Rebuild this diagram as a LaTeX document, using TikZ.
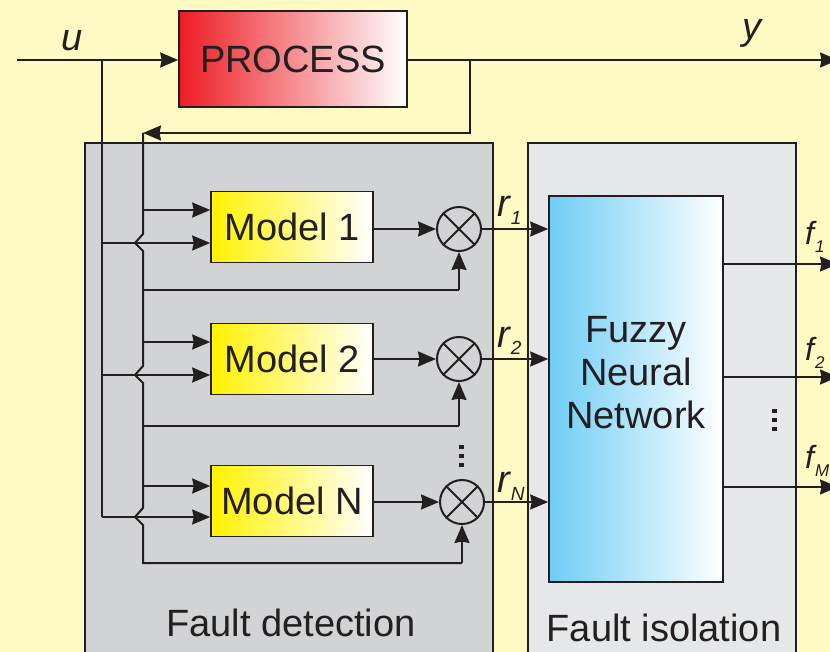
\documentclass[tikz,border=0pt]{standalone}
\usepackage{fontspec}
\setmainfont{Liberation Sans}
\usetikzlibrary{arrows.meta,calc}
\definecolor{bgy}{RGB}{255,249,196}
\definecolor{ink}{RGB}{35,31,32}
\definecolor{fdgray}{RGB}{209,211,212}
\definecolor{figray}{RGB}{230,231,232}
\definecolor{pred}{RGB}{237,28,36}
\definecolor{myel}{RGB}{255,242,0}
\definecolor{fblue}{RGB}{110,205,245}
\tikzset{
  wire/.style={draw=ink,line width=2pt},
  arr/.style={wire,-{Stealth[length=18pt,width=15pt,inset=1.5pt]}},
  blk/.style={draw=ink,line width=1.6pt,inner sep=0pt,text=ink,font=\fontsize{38}{42}\selectfont},
  region/.style={draw=ink,line width=1.6pt,inner sep=0pt},
  mult/.style={circle,draw=ink,line width=2pt,minimum size=44pt,inner sep=0pt},
  lab/.style={text=ink,font=\fontsize{38}{42}\selectfont},
  ilab/.style={text=ink,font=\fontsize{38}{42}\selectfont\itshape,inner sep=0pt},
  flab/.style={text=ink,font=\fontsize{32}{36}\selectfont\itshape,inner sep=0pt,anchor=base west},
  rlab/.style={ilab,anchor=base west}
}
\newcommand{\rsub}[2]{#1\hspace{1pt}\raisebox{-8pt}{\fontsize{19}{20}\selectfont #2}}
\newcommand{\fsub}[2]{#1\hspace{1pt}\raisebox{-8pt}{\fontsize{17}{18}\selectfont #2}}
\begin{document}
\begin{tikzpicture}[x=1pt,y=-1pt]
\useasboundingbox (0,0) rectangle (830,652);
\clip (0,0) rectangle (830,652);
\fill[bgy] (0,0) rectangle (830,652);
% regions
\node[region,fill=fdgray,minimum width=408pt,minimum height=520pt] (fd) at (289,403) {};
\node[region,fill=figray,minimum width=268pt,minimum height=520pt] (fi) at (662,403) {};
\node[lab] (fdl) at (291,623) {Fault detection};
\node[lab] (fil) at (664,628) {Fault isolation};
% process
\node[blk,left color=pred,right color=white,minimum width=228pt,minimum height=96pt] (proc) at (293,59) {PROCESS};
\coordinate (uin) at (17,60);
\coordinate (uj) at (102,60);
\coordinate (yj) at (470,60);
\coordinate (yout) at (838,60);
\draw[arr] (uin) -- (proc.west |- uin);
\draw[arr] (proc.east |- uin) -- (yout);
\node[ilab] (ulab) at (72,41) {u};
\node[ilab] (ylab) at (752,33) {y};
\coordinate (fbturn) at (470,133);
\coordinate (fbend) at (143,133);
\draw[arr] (yj) -- (fbturn) -- (fbend);
% models
\node[blk,left color=myel,right color=white,minimum width=162pt,minimum height=71pt] (m1) at (292,227) {Model 1};
\node[blk,left color=myel,right color=white,minimum width=162pt,minimum height=71pt] (m2) at (292,359) {Model 2};
\node[blk,left color=myel,right color=white,minimum width=162pt,minimum height=71pt] (mN) at (292,501) {Model N};
% multipliers
\node[mult] (c1) at (459,229) {};
\node[mult] (c2) at (459,359) {};
\node[mult] (cN) at (462,502) {};
\foreach \c in {c1,c2,cN}{
  \draw[wire] (\c.north east) -- (\c.south west);
  \draw[wire] (\c.north west) -- (\c.south east);
}
% fnn
\node[blk,left color=fblue,right color=white,minimum width=174pt,minimum height=386pt] (fnn) at (636,389) {};
\node[lab,align=center,font=\fontsize{38}{43}\selectfont] (fnnt) at (636,373) {Fuzzy\\Neural\\Network};
% u distribution
\draw[wire] (uj) -- (102,517);
\draw[arr] (102,243) -- (m1.west |- 0,243);
\draw[arr] (102,375) -- (m2.west |- 0,375);
\draw[arr] (102,517) -- (mN.west |- 0,517);
% y distribution with kinks
\draw[wire] (fbend) -- (143,234) -- (135,243) -- (143,251) -- (143,366) -- (135,375) -- (143,383) -- (143,508) -- (135,517) -- (143,525) -- (143,563) -- (cN.south |- 0,563);
\draw[arr] (cN.south |- 0,563) -- (cN.south);
\draw[arr] (143,210) -- (m1.west |- 0,210);
\draw[arr] (143,342) -- (m2.west |- 0,342);
\draw[arr] (143,486) -- (mN.west |- 0,486);
\draw[wire] (143,290) -- (c1.south |- 0,290);
\draw[arr] (c1.south |- 0,290) -- (c1.south);
\draw[wire] (143,426) -- (c2.south |- 0,426);
\draw[arr] (c2.south |- 0,426) -- (c2.south);
% model to multiplier
\draw[arr] (m1.east |- c1) -- (c1.west);
\draw[arr] (m2.east |- c2) -- (c2.west);
\draw[arr] (mN.east |- cN) -- (cN.west);
% residuals
\draw[arr] (c1.east) -- (fnn.west |- c1);
\draw[arr] (c2.east) -- (fnn.west |- c2);
\draw[arr] (cN.east) -- (fnn.west |- cN);
\node[rlab] (r1) at (497,217) {\rsub{r}{1}};
\node[rlab] (r2) at (497,347) {\rsub{r}{2}};
\node[rlab] (rN) at (497,492) {\rsub{r}{N}};
% outputs
\draw[arr] (fnn.east |- 0,264) -- (838,264);
\draw[arr] (fnn.east |- 0,377) -- (838,377);
\draw[arr] (fnn.east |- 0,487) -- (838,487);
\node[flab] (f1) at (805,245) {\fsub{f}{1}};
\node[flab] (f2) at (805,360) {\fsub{f}{2}};
\node[flab] (fM) at (805,468) {\fsub{f}{M}};
% dots
\foreach \yy in {445,454,463}{\fill[ink] (459,\yy) rectangle (464,\yy+4);}
\foreach \yy in {409,418,427}{\fill[ink] (772,\yy) rectangle (777,\yy+4);}
\end{tikzpicture}
\end{document}
